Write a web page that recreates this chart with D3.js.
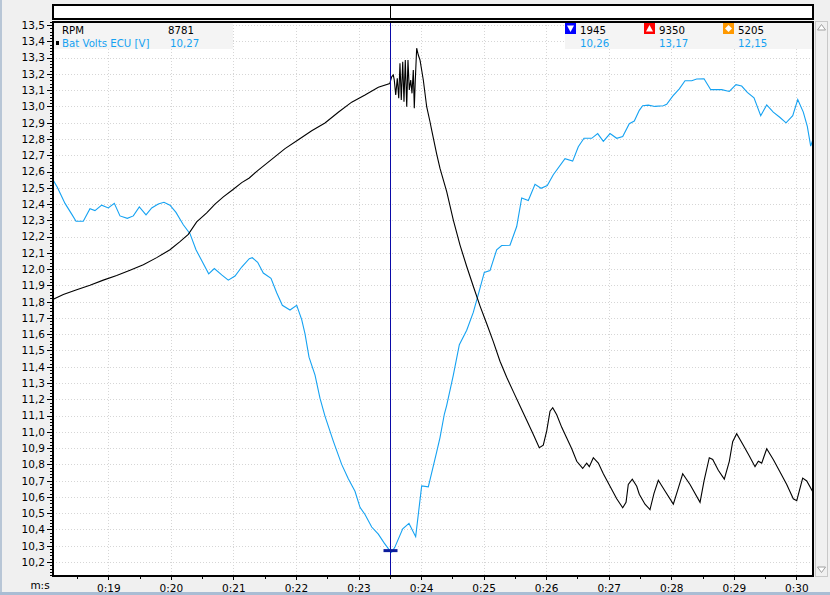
<!DOCTYPE html>
<html><head><meta charset="utf-8">
<script src="https://cdn.jsdelivr.net/npm/d3@7/dist/d3.min.js"></script>
<style>
body{margin:0;background:#f0f0f0;overflow:hidden;}
svg{display:block;font-family:"DejaVu Sans",sans-serif;}
</style></head>
<body><svg id="c" width="830" height="595"></svg>
<script>
// ---------- data ----------
const voltTime = [18.111,18.185,18.308,18.415,18.484,18.60,18.707,18.787,18.894,19.0,19.096,19.187,19.304,19.40,19.496,19.603,19.694,19.799,19.890,19.986,20.082,20.199,20.306,20.402,20.493,20.605,20.695,20.813,20.918,21.026,21.133,21.254,21.302,21.388,21.478,21.601,21.692,21.782,21.905,22.012,22.092,22.145,22.209,22.305,22.384,22.464,22.597,22.731,22.837,22.944,23.024,23.104,23.211,23.317,23.412,23.50,23.53,23.58,23.707,23.807,23.914,24.010,24.116,24.25,24.303,24.372,24.410,24.516,24.612,24.730,24.835,24.931,25.011,25.102,25.209,25.289,25.422,25.529,25.609,25.715,25.822,25.918,26.018,26.114,26.301,26.424,26.514,26.605,26.728,26.824,26.914,27.021,27.128,27.224,27.329,27.409,27.489,27.543,27.633,27.740,27.873,27.927,28.023,28.129,28.220,28.327,28.407,28.524,28.631,28.807,28.928,29.035,29.126,29.216,29.323,29.430,29.526,29.631,29.739,29.835,29.942,30.022,30.111,30.175,30.229,30.261];
const voltValues = [12.552,12.503,12.404,12.338,12.294,12.294,12.371,12.360,12.393,12.376,12.404,12.327,12.312,12.327,12.382,12.334,12.376,12.400,12.411,12.393,12.349,12.273,12.218,12.119,12.053,11.971,12.004,11.965,11.932,11.958,12.013,12.064,12.070,12.042,11.976,11.943,11.855,11.778,11.749,11.778,11.690,11.602,11.459,11.349,11.207,11.097,10.943,10.800,10.712,10.635,10.536,10.492,10.415,10.371,10.316,10.27,10.26,10.29,10.404,10.437,10.356,10.668,10.662,10.877,10.965,11.108,11.163,11.349,11.536,11.624,11.734,11.866,11.980,11.991,12.119,12.145,12.147,12.262,12.437,12.422,12.521,12.497,12.514,12.580,12.679,12.664,12.752,12.804,12.804,12.833,12.785,12.833,12.804,12.815,12.894,12.910,12.976,13.004,13.008,13.000,13.004,13.013,13.063,13.108,13.158,13.158,13.169,13.17,13.103,13.103,13.092,13.134,13.125,13.086,13.053,12.943,13.009,12.965,12.932,12.899,12.943,13.042,12.965,12.877,12.756,12.793];

const rpmTime = [18.111,18.281,18.495,18.707,18.92,19.134,19.347,19.56,19.774,19.986,20.146,20.279,20.413,20.573,20.706,20.839,20.989,21.133,21.254,21.398,21.612,21.825,22.038,22.252,22.464,22.677,22.891,23.104,23.317,23.50,23.531,23.556,23.572,23.595,23.620,23.643,23.663,23.684,23.707,23.727,23.748,23.771,23.791,23.812,23.835,23.855,23.876,23.892,23.908,23.930,23.956,23.983,24.036,24.090,24.143,24.170,24.250,24.303,24.410,24.516,24.623,24.730,24.835,24.942,25.050,25.155,25.262,25.369,25.475,25.582,25.689,25.795,25.890,25.954,26.009,26.062,26.105,26.169,26.249,26.329,26.409,26.489,26.584,26.648,26.690,26.754,26.834,26.914,27.021,27.128,27.224,27.277,27.313,27.377,27.448,27.489,27.580,27.660,27.724,27.793,27.900,28.033,28.113,28.183,28.300,28.460,28.524,28.608,28.663,28.752,28.848,28.928,28.982,29.046,29.152,29.248,29.339,29.392,29.446,29.526,29.631,29.739,29.846,29.951,30.006,30.101,30.166,30.262];
const rpmValues = [5317,5397,5472,5546,5627,5701,5787,5873,5988,6114,6246,6361,6562,6705,6848,6963,7078,7192,7267,7393,7565,7737,7881,8024,8150,8322,8483,8597,8724,8781,8892,8919,8839,8598,8866,8545,9107,8518,9132,8491,9160,8410,9160,8678,8839,8625,8999,8385,8839,9350,9240,9160,8839,8410,8169,8036,7651,7420,7049,6590,6189,5845,5529,5214,4927,4640,4325,4067,3837,3608,3379,3149,2937,2977,3207,3522,3579,3465,3264,3092,2920,2719,2604,2690,2633,2777,2690,2518,2318,2117,1974,2060,2346,2432,2318,2190,2031,1945,2203,2415,2243,2031,2289,2519,2346,2060,2404,2776,2748,2576,2432,2719,3034,3161,2977,2805,2633,2719,2690,2920,2748,2547,2346,2117,2088,2449,2404,2232];

const xTickValues = [19,20,21,22,23,24,25,26,27,28,29,30];
const xTickLabels = ["0:19","0:20","0:21","0:22","0:23","0:24","0:25","0:26","0:27","0:28","0:29","0:30"];
const yTickValues = [10.2,10.3,10.4,10.5,10.6,10.7,10.8,10.9,11.0,11.1,11.2,11.3,11.4,11.5,11.6,11.7,11.8,11.9,12.0,12.1,12.2,12.3,12.4,12.5,12.6,12.7,12.8,12.9,13.0,13.1,13.2,13.3,13.4,13.5];
const yTickLabels = ["10,2","10,3","10,4","10,5","10,6","10,7","10,8","10,9","11,0","11,1","11,2","11,3","11,4","11,5","11,6","11,7","11,8","11,9","12,0","12,1","12,2","12,3","12,4","12,5","12,6","12,7","12,8","12,9","13,0","13,1","13,2","13,3","13,4","13,5"];
const seriesNames = ["RPM","Bat Volts ECU [V]"];
const cursorTime = 23.5;
const cursorVolt = 10.27;
const cursorLabels = ["8781","10,27"];
const statRpmLabels = ["1945","9350","5205"];
const statVoltLabels = ["10,26","13,17","12,15"];
const axisUnitLabel = "m:s";

// ---------- layout ----------
const L = 53, R = 813, T = 22, B = 576;
const BLUE = "#15a2f2";
const svg = d3.select("#c");

const x = d3.scaleLinear().domain([18.116, 30.266]).range([L, R]);
const yV = d3.scaleLinear().domain([10.114, 13.525]).range([B, 21]);
const yR = d3.scaleLinear().domain([878, 9786]).range([B, 21]);

// window edges
svg.append("rect").attr("x",0).attr("y",0).attr("width",830).attr("height",595).attr("fill","#f0f0f0");
svg.append("rect").attr("x",0).attr("y",0).attr("width",2).attr("height",595).attr("fill","#b8c6d6");
svg.append("rect").attr("x",0).attr("y",592).attr("width",830).attr("height",3).attr("fill","#a9bdd4");

// header box
svg.append("rect").attr("x",53).attr("y",5).attr("width",760).attr("height",14)
  .attr("fill","#fff").attr("stroke","#000").attr("stroke-width",2).attr("shape-rendering","crispEdges");

// plot background
svg.append("rect").attr("x",L).attr("y",T).attr("width",R-L).attr("height",B-T).attr("fill","#fff");

svg.append("defs").append("clipPath").attr("id","clip")
  .append("rect").attr("x",L).attr("y",T).attr("width",R-L).attr("height",B-T);

// grid
const grid = svg.append("g").attr("shape-rendering","crispEdges");
grid.selectAll("line.h").data(yTickValues).join("line")
  .attr("x1",L).attr("x2",R).attr("y1",d=>Math.round(yV(d))+0.5).attr("y2",d=>Math.round(yV(d))+0.5)
  .attr("stroke","#d6d6d6").attr("stroke-dasharray","1,2");
grid.selectAll("line.v").data(xTickValues).join("line")
  .attr("y1",T).attr("y2",B).attr("x1",d=>Math.round(x(d))+0.5).attr("x2",d=>Math.round(x(d))+0.5)
  .attr("stroke","#d6d6d6").attr("stroke-dasharray","1,2");

// legend bands
svg.append("rect").attr("x",54).attr("y",23).attr("width",179).attr("height",26).attr("fill","#f4f4f4");
svg.append("rect").attr("x",565).attr("y",23).attr("width",247).attr("height",26).attr("fill","#f4f4f4");

// series
const plot = svg.append("g").attr("clip-path","url(#clip)");
const lineV = d3.line().x((d,i)=>x(voltTime[i])).y(d=>yV(d));
const lineR = d3.line().x((d,i)=>x(rpmTime[i])).y(d=>yR(d));
plot.append("path").attr("d",lineV(voltValues)).attr("fill","none").attr("stroke",BLUE).attr("stroke-width",1.1);
plot.append("path").attr("d",lineR(rpmValues)).attr("fill","none").attr("stroke","#000").attr("stroke-width",1.1);

// cursor
const cx = Math.round(x(cursorTime))+0.5;
svg.append("line").attr("x1",cx).attr("x2",cx).attr("y1",T).attr("y2",B).attr("stroke","#0a0aa8").attr("shape-rendering","crispEdges");
svg.append("line").attr("x1",cx).attr("x2",cx).attr("y1",5).attr("y2",19).attr("stroke","#000").attr("shape-rendering","crispEdges");
svg.append("rect").attr("x",cx-7).attr("y",yV(cursorVolt)-1.5).attr("width",14).attr("height",3).attr("fill","#0c1c9c");

// frame
svg.append("rect").attr("x",L).attr("y",T).attr("width",R-L).attr("height",B-T)
  .attr("fill","none").attr("stroke","#000").attr("stroke-width",2).attr("shape-rendering","crispEdges");

// y axis
const fmtY = d => yTickLabels[yTickValues.indexOf(d)];
const yAxis = svg.append("g").attr("transform",`translate(${L},0)`)
  .call(d3.axisLeft(yV).tickValues(yTickValues).tickFormat(fmtY).tickSize(6).tickPadding(2));
const minorY = d3.range(506,677).map(k=>k/50).filter(v=>v>=10.12&&v<=13.52);
svg.append("g").attr("transform",`translate(${L},0)`)
  .call(d3.axisLeft(yV).tickValues(minorY).tickFormat("").tickSize(3))
  .call(g=>g.select(".domain").remove());
yAxis.select(".domain").remove();
yAxis.selectAll("text").attr("font-size",10.5).attr("fill","#000").attr("font-family","DejaVu Sans");
svg.selectAll(".tick line").attr("shape-rendering","crispEdges");

// x axis
const fmtX = d => xTickLabels[xTickValues.indexOf(d)];
const xAxis = svg.append("g").attr("transform",`translate(0,${B})`)
  .call(d3.axisBottom(x).tickValues(xTickValues).tickFormat(fmtX).tickSize(4));
xAxis.select(".domain").remove();
xAxis.selectAll("text").attr("y",16).attr("dy",0).attr("font-size",10.5).attr("fill","#000").attr("font-family","DejaVu Sans");
const minorX = d3.range(37,61).map(k=>k/2).filter(v=>v>18.2&&v<30.2&&v%1!==0);
svg.append("g").attr("transform",`translate(0,${B})`)
  .call(d3.axisBottom(x).tickValues(minorX).tickFormat("").tickSize(3))
  .call(g=>g.select(".domain").remove());
svg.selectAll(".tick line").attr("shape-rendering","crispEdges");
svg.append("text").attr("x",40).attr("y",589).attr("text-anchor","middle").attr("font-size",10.5).attr("fill","#000").text(axisUnitLabel);

// legend text
const lg = svg.append("g").attr("font-size",10.2);
lg.append("text").attr("x",62).attr("y",34).attr("fill","#000").text(seriesNames[0]);
lg.append("text").attr("x",62).attr("y",47).attr("fill",BLUE).text(seriesNames[1]);
lg.append("rect").attr("x",56).attr("y",41).attr("width",3).attr("height",4).attr("fill","#000");
lg.append("text").attr("x",168).attr("y",34).attr("fill","#000").text(cursorLabels[0]);
lg.append("text").attr("x",170).attr("y",47).attr("fill",BLUE).text(cursorLabels[1]);

const statX = [580,659,738];
const iconX = [565,644,723];
const iconCol = ["#0000ff","#ff0000","#ff9900"];
statRpmLabels.forEach((s,i)=>{
  lg.append("text").attr("x",statX[i]).attr("y",34).attr("fill","#000").text(s);
  lg.append("text").attr("x",statX[i]).attr("y",47).attr("fill",BLUE).text(statVoltLabels[i]);
  lg.append("rect").attr("x",iconX[i]).attr("y",23).attr("width",11).attr("height",11).attr("fill",iconCol[i]);
  const cxi = iconX[i]+5.5, cyi = 28.5;
  let pts;
  if(i===0) pts = [[cxi-3.5,cyi-3],[cxi+3.5,cyi-3],[cxi,cyi+3.5]];
  else if(i===1) pts = [[cxi-3.5,cyi+3],[cxi+3.5,cyi+3],[cxi,cyi-3.5]];
  else pts = [[cxi,cyi-3.5],[cxi+3.5,cyi],[cxi,cyi+3.5],[cxi-3.5,cyi]];
  lg.append("polygon").attr("points",pts.map(p=>p.join(",")).join(" ")).attr("fill","#fff");
});

// scrollbar
svg.append("rect").attr("x",815.5).attr("y",21.5).attr("width",12).attr("height",555)
  .attr("fill","#f0f0f0").attr("stroke","#c8c8c8").attr("shape-rendering","crispEdges");
svg.append("polygon").attr("points","817.5,30 821.5,24.5 825.5,30").attr("fill","#fff").attr("stroke","#a0a0a0");
svg.append("polygon").attr("points","817.5,567 821.5,572.5 825.5,567").attr("fill","#fff").attr("stroke","#a0a0a0");
</script>
</body></html>
